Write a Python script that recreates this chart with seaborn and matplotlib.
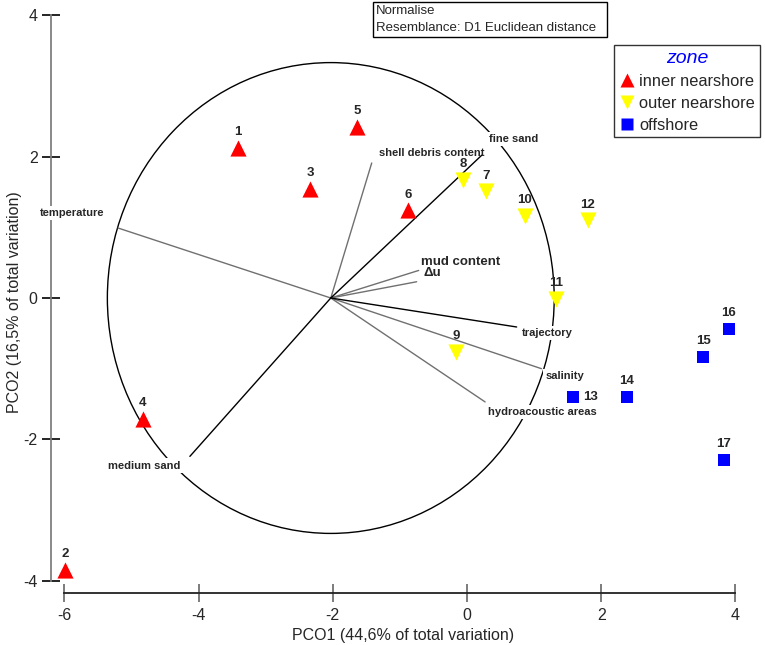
import matplotlib
matplotlib.use("Agg")
import matplotlib.pyplot as plt
from matplotlib.lines import Line2D
from matplotlib.patches import Circle, Rectangle
import seaborn as sns
import pandas as pd

# site scores on PCO1 / PCO2
sites = [str(i) for i in range(1, 18)]
pco1 = [-3.41, -5.99, -2.34, -4.83, -1.64, -0.88, 0.28, -0.06, -0.16, 0.86, 1.33, 1.80, 1.58, 2.38, 3.52, 3.90, 3.83]
pco2 = [2.12, -3.85, 1.54, -1.71, 2.42, 1.24, 1.51, 1.67, -0.76, 1.16, -0.01, 1.10, -1.40, -1.40, -0.83, -0.44, -2.29]
zone = ['inner nearshore'] * 6 + ['outer nearshore'] * 6 + ['offshore'] * 5
zones = ['inner nearshore', 'outer nearshore', 'offshore']

# vector overlay (relative to the circle centre)
variables = ['temperature', 'shell debris content', 'fine sand', 'mud content', 'Δu',
             'trajectory', 'salinity', 'hydroacoustic areas', 'medium sand']
vec_x = [-3.17, 0.61, 2.25, 1.31, 1.28, 2.77, 3.14, 2.30, -2.10]
vec_y = [0.99, 1.91, 2.02, 0.39, 0.23, -0.41, -1.00, -1.47, -2.24]
circle_centre = (-2.03, 0.0)
circle_radius = 3.33

df = pd.DataFrame({'site': sites, 'PCO1': pco1, 'PCO2': pco2, 'zone': zone})

sns.set_style("ticks")
plt.rcParams['font.family'] = ['Liberation Sans', 'DejaVu Sans']
plt.rcParams['axes.unicode_minus'] = False

fig = plt.figure(figsize=(7.65, 6.45), dpi=100)
ax = fig.add_axes([51 / 765, 1 - 592.8 / 645, (755.5 - 51) / 765, (592.8 - 11.7) / 645])
ax.patch.set_alpha(0)

colors = {'inner nearshore': '#ff0000', 'outer nearshore': '#ffff00', 'offshore': '#0000ff'}
markers = {'inner nearshore': '^', 'outer nearshore': 'v', 'offshore': 's'}
sizes = {'inner nearshore': 135, 'outer nearshore': 135, 'offshore': 68}

# correlation circle + vectors
ax.add_patch(Circle(circle_centre, circle_radius, fill=False, ec='black', lw=1.0, zorder=1))
vec_col = {'fine sand': 'black', 'medium sand': 'black', 'trajectory': 'black'}
for name, vx, vy in zip(variables, vec_x, vec_y):
    c = vec_col.get(name, '#707070')
    ax.plot([circle_centre[0], circle_centre[0] + vx], [circle_centre[1], circle_centre[1] + vy],
            color=c, lw=1.0, zorder=3.5 if c == 'black' else 2)

# label placement for the vectors
vec_label_pos = {
    'temperature': (-5.89, 1.20), 'shell debris content': (-0.52, 2.05),
    'fine sand': (0.69, 2.25), 'mud content': (-0.10, 0.51), 'Δu': (-0.52, 0.35),
    'trajectory': (1.19, -0.50), 'salinity': (1.46, -1.10),
    'hydroacoustic areas': (1.12, -1.61), 'medium sand': (-4.81, -2.37),
}
for name in variables:
    x, y = vec_label_pos[name]
    fs = 9.5 if name in ('mud content', 'Δu') else 8
    ax.text(x, y, name, fontsize=fs, fontweight='bold', ha='center', va='center',
            bbox=dict(fc='white', ec='none', pad=1.5), zorder=3)

for z in zones:
    sns.scatterplot(data=df[df['zone'] == z], x='PCO1', y='PCO2', color=colors[z],
                    marker=markers[z], s=sizes[z], linewidth=0, legend=False, ax=ax, zorder=5)

for s, x, y in zip(sites, pco1, pco2):
    if s == '13':
        ax.annotate(s, (x, y), xytext=(7, 0), textcoords='offset points', ha='left', va='center',
                    fontsize=9.5, fontweight='bold', zorder=6)
    else:
        ax.annotate(s, (x, y), xytext=(0, 7), textcoords='offset points', ha='center', va='bottom',
                    fontsize=9.5, fontweight='bold', zorder=6)

ax.set_xlim(-6.2, 4.3)
ax.set_ylim(-4.17, 4.05)
ax.set_xticks([-6, -4, -2, 0, 2, 4])
ax.set_yticks([-4, -2, 0, 2, 4])
for sp in ['top', 'right']:
    ax.spines[sp].set_visible(False)
ax.spines['left'].set_bounds(-4, 4)
ax.spines['bottom'].set_bounds(-6, 4)
ax.spines['left'].set_color('#808080')
ax.spines['bottom'].set_color('#222222')
ax.spines['left'].set_linewidth(1.3)
ax.spines['bottom'].set_linewidth(1.3)
ax.tick_params(axis='y', left=True, direction='inout', length=12.5, width=1.2, color='black',
               pad=3.4, labelsize=11.5)
ax.tick_params(axis='x', bottom=True, direction='inout', length=13.5, width=1.2, color='#666666',
               pad=4, labelsize=11.5)
ax.set_xlabel('PCO1 (44,6% of total variation)', fontsize=11.5, labelpad=4)
ax.set_ylabel('PCO2 (16,5% of total variation)', fontsize=11.5, labelpad=1)

# legend
handles = [Line2D([], [], ls='', marker=markers[z], color=colors[z], mec='none',
                  markersize=10 if z != 'offshore' else 8.5) for z in zones]
leg = ax.legend(handles, zones, title='zone', loc='upper left',
                bbox_to_anchor=(614 / 765, 1 - 45 / 645), bbox_transform=fig.transFigure,
                fontsize=11.8, title_fontsize=14, frameon=True, fancybox=False,
                labelspacing=0.42, handletextpad=0.25, handlelength=1.0, borderpad=0.3,
                borderaxespad=0)
leg.get_frame().set_edgecolor('black')
leg.get_frame().set_linewidth(1.0)
leg.get_title().set_color('blue')
leg.get_title().set_fontstyle('italic')

# resemblance info box
fig.patches.append(Rectangle((373 / 765, 1 - 37 / 645), 234 / 765, 35 / 645, transform=fig.transFigure,
                             fill=False, ec='black', lw=1.0))
fig.text(376 / 765, 1 - 11.5 / 645, 'Normalise', fontsize=9.5, va='center', ha='left')
fig.text(376 / 765, 1 - 28 / 645, 'Resemblance: D1 Euclidean distance', fontsize=9.5, va='center', ha='left')

plt.savefig('out.png', dpi=100)
